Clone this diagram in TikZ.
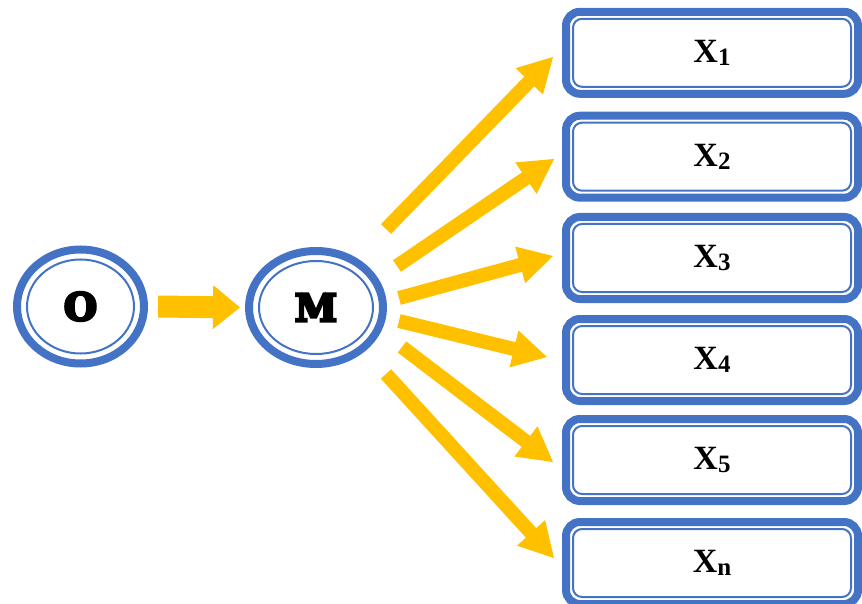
\documentclass[tikz,border=0pt]{standalone}
\usepackage{fontspec}
\setmainfont{Liberation Serif}
\newfontfamily\tms{Liberation Serif}
\newfontfamily\slab[FakeBold=7]{DejaVu Serif Bold}
\usetikzlibrary{shapes.geometric,calc}
\definecolor{bblue}{HTML}{4472C4}
\definecolor{ayellow}{HTML}{FFC000}
\newcommand\fatarrow[5]{% start, tip, shaft half width, head half width, head length
  \coordinate (hb) at ($(#2)!#5!(#1)$);
  \fill[ayellow] ($(#1)!#3!90:(#2)$) -- ($(hb)!#3!90:(#2)$) -- ($(hb)!#4!90:(#2)$) -- (#2)
    -- ($(hb)!#4!-90:(#2)$) -- ($(hb)!#3!-90:(#2)$) -- ($(#1)!#3!-90:(#2)$) -- cycle;}
\newcommand\xlab[1]{\textbf{X}\raisebox{-3pt}{\fontsize{25}{25}\selectfont\textbf{#1}}}
\tikzset{
  outerE/.style={ellipse, draw=bblue, line width=8pt, inner sep=0pt},
  innerE/.style={ellipse, draw=bblue, line width=2pt, inner sep=0pt,
    font=\slab\fontsize{38}{38}\selectfont},
  outerB/.style={rectangle, rounded corners=14pt, draw=bblue, line width=8pt,
    minimum width=292pt, minimum height=82pt, inner sep=0pt},
  innerB/.style={rectangle, rounded corners=9pt, draw=bblue, line width=2pt,
    minimum width=278pt, minimum height=68pt, inner sep=0pt,
    font=\tms\fontsize{34}{34}\selectfont},
}
\begin{document}
\begin{tikzpicture}[x=1pt,y=-1pt]
\useasboundingbox (0,0) rectangle (862,604);
\clip (0,0) rectangle (862,604);
% circles
\node[outerE, minimum width=127pt, minimum height=114pt] (Oo) at (80.5,306.5) {};
\node[innerE, minimum width=107pt, minimum height=94pt] (O) at (Oo.center) {O};
\node[outerE, minimum width=134pt, minimum height=113pt] (Mo) at (316,307.5) {};
\node[innerE, minimum width=114pt, minimum height=93pt] (M) at (Mo.center) {M};
% boxes
\foreach \i/\y/\t in {1/52.8/1, 2/156.7/2, 3/258/3, 4/360/4, 5/460/5, 6/563/n}{
  \node[outerB] (Bo\i) at (712,\y) {};
  \node[innerB] (B\i) at (Bo\i.center) {\xlab{\t}};
}
% arrow O -> M
\coordinate (a0) at ($(Oo.east)+(10,0)$);
\coordinate (b0) at ($(Mo.west)+(-5,0)$);
\fatarrow{a0}{b0}{11pt}{22pt}{27pt}
% arrows M -> boxes
\coordinate (t1) at (386,229); \coordinate (h1) at (553,57);
\coordinate (t2) at (397,266); \coordinate (h2) at (554,159);
\coordinate (t3) at (399,298); \coordinate (h3) at (553,256);
\coordinate (t4) at (399,321); \coordinate (h4) at (547,357);
\coordinate (t5) at (402,347); \coordinate (h5) at (553,462);
\coordinate (t6) at (386,374); \coordinate (h6) at (554,558);
\foreach \i in {1,...,6}{\fatarrow{t\i}{h\i}{7pt}{19pt}{34pt}}
\end{tikzpicture}
\end{document}
